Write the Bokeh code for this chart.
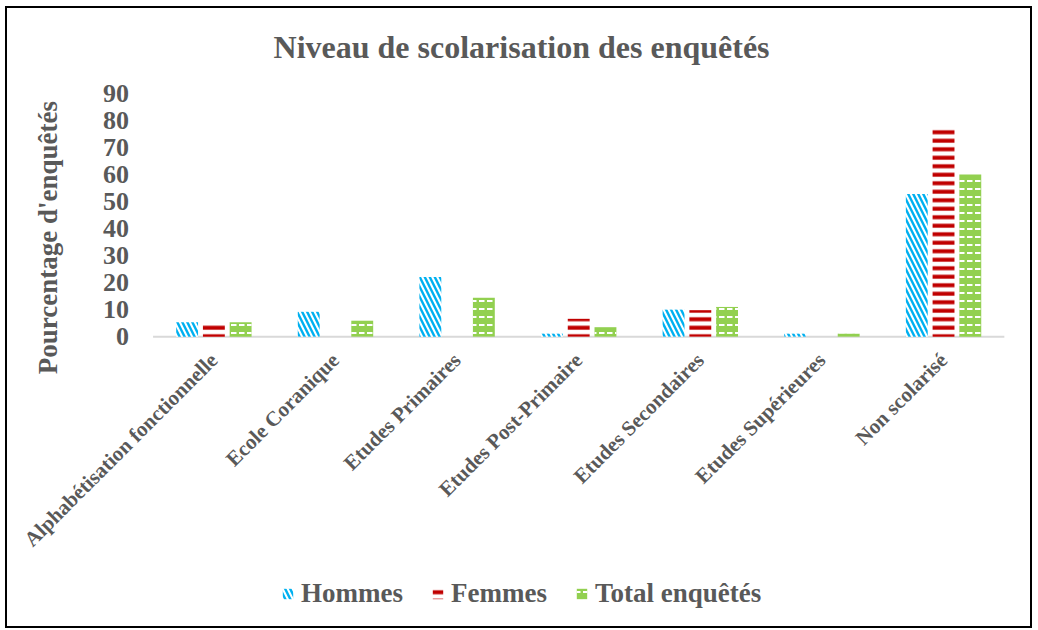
import math
from bokeh.plotting import figure
from bokeh.models import (ColumnDataSource, Range1d, FixedTicker, Label,
                          Legend, LegendItem)
from bokeh.transform import dodge
from bokeh.embed import file_html
from bokeh.resources import INLINE

categories = ["Alphabétisation fonctionnelle", "Ecole Coranique", "Etudes Primaires",
              "Etudes Post-Primaire", "Etudes Secondaires", "Etudes Supérieures",
              "Non scolarisé"]
hommes = [5.3, 9.2, 22.1, 1.1, 10.0, 1.1, 52.8]
femmes = [5.3, 0.0, 0.0, 6.6, 9.8, 0.0, 77.7]
total = [5.3, 5.9, 14.4, 3.5, 11.0, 1.1, 60.0]
y_ticks = [0, 10, 20, 30, 40, 50, 60, 70, 80, 90]

title_text = "Niveau de scolarisation des enquêtés"
y_label_text = "Pourcentage d'enquêtés"
series_names = ["Hommes", "Femmes", "Total enquêtés"]

FONT = "Liberation Serif"
GREY = "#595959"

idx = list(range(len(categories)))
src = ColumnDataSource(dict(idx=idx, cat=categories, hommes=hommes,
                            femmes=femmes, total=total))

# The frame covers the whole canvas; titles, axes and legend are drawn inside it.
p = figure(x_range=Range1d(-1.697, 6.748), y_range=Range1d(-108.8, 121.5),
           width=1027, height=622,
           output_backend="svg", toolbar_location=None,
           min_border_left=0, min_border_right=0,
           min_border_top=0, min_border_bottom=0)
p.styles = {"border": "2px solid black", "margin-left": "5px", "margin-top": "6px"}

p.xgrid.grid_line_color = None
p.ygrid.grid_line_color = None
p.outline_line_color = None

# category baseline
p.line(x=[idx[0] - 0.5, idx[-1] + 0.5], y=[0, 0], line_color="#D9D9D9", line_width=2)

bw = 0.18
r1 = p.vbar(x=dodge("idx", -0.22), top="hommes", width=bw, source=src,
            fill_color="white", line_color=None,
            hatch_pattern="left_diagonal_line", hatch_color="#00B0F0",
            hatch_scale=10, hatch_weight=2.4)
r2 = p.vbar(x=dodge("idx", 0.0), top="femmes", width=bw, source=src,
            fill_color="white", line_color=None,
            hatch_pattern="horizontal_line", hatch_color="#C00000",
            hatch_scale=8.5, hatch_weight=4)
r3 = p.vbar(x=dodge("idx", 0.22), top="total", width=bw, source=src,
            fill_color="#92D050", line_color=None,
            hatch_pattern="horizontal_dash", hatch_color="white",
            hatch_scale=8, hatch_weight=2)

xa = p.xaxis[0]
xa.fixed_location = 0
xa.ticker = FixedTicker(ticks=idx)
xa.major_label_overrides = {i: c for i, c in zip(idx, categories)}
xa.axis_line_color = None
xa.major_tick_line_color = None
xa.minor_tick_line_color = None
xa.major_tick_out = 0
xa.major_label_orientation = math.pi / 4
xa.major_label_text_font = FONT
xa.major_label_text_font_style = "bold"
xa.major_label_text_font_size = "21px"
xa.major_label_text_color = GREY
xa.major_label_standoff = 20

ya = p.yaxis[0]
ya.fixed_location = idx[0] - 0.5
ya.ticker = FixedTicker(ticks=y_ticks)
ya.axis_line_color = None
ya.major_tick_line_color = None
ya.minor_tick_line_color = None
ya.major_tick_out = 0
ya.major_label_text_font = FONT
ya.major_label_text_font_style = "bold"
ya.major_label_text_font_size = "26px"
ya.major_label_text_color = GREY
ya.major_label_standoff = 24

p.add_layout(Label(x=2.53, y=107.3, text=title_text, text_align="center",
                   text_baseline="middle", text_font=FONT, text_font_style="bold",
                   text_font_size="32px", text_color=GREY))
p.add_layout(Label(x=-1.367, y=36.7, text=y_label_text, angle=math.pi / 2,
                   text_align="center", text_baseline="middle", text_font=FONT,
                   text_font_style="bold", text_font_size="27px", text_color=GREY))

legend = Legend(items=[LegendItem(label=series_names[0], renderers=[r1]),
                       LegendItem(label=series_names[1], renderers=[r2]),
                       LegendItem(label=series_names[2], renderers=[r3])],
                orientation="horizontal", location=(274, 21),
                label_text_font=FONT, label_text_font_style="bold",
                label_text_font_size="27px", label_text_color=GREY,
                glyph_width=13, glyph_height=13, label_standoff=7, spacing=28,
                padding=0, margin=0, border_line_color=None,
                background_fill_alpha=0)
p.add_layout(legend, "center")

open("out.html", "w").write(file_html(p, INLINE))
